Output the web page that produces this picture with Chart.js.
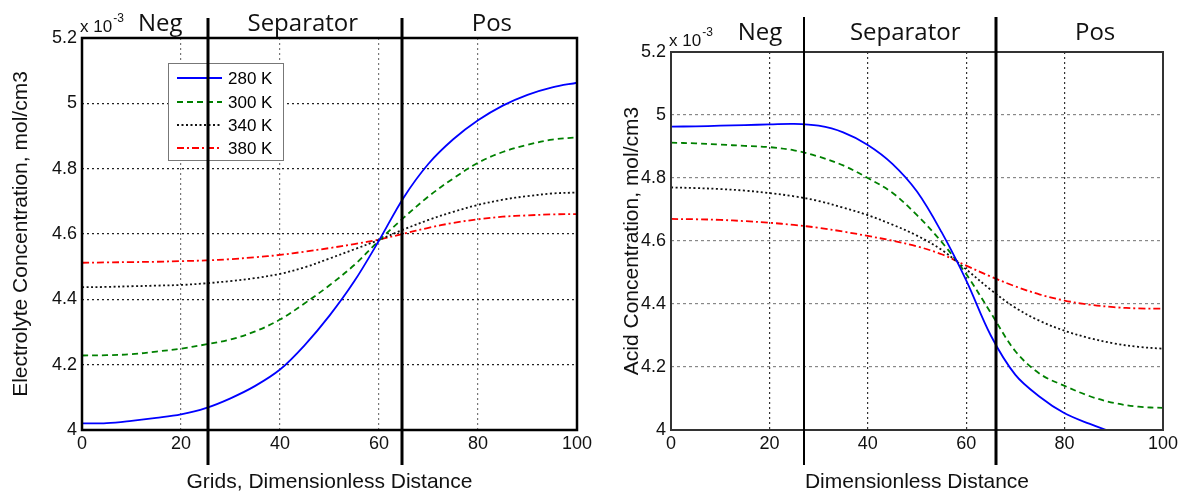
<!DOCTYPE html>
<html lang="en">
<head>
<meta charset="UTF-8">
<title>Electrolyte and Acid Concentration</title>
<script src="https://cdn.jsdelivr.net/npm/chart.js"></script>
<style>
    body {
        margin: 0;
        background: #fff;
        width: 1182px;
        height: 496px;
        overflow: hidden;
        position: relative;
    }
    canvas { position: absolute; top: 0; }
    #electrolyte { left: 0; }
    #acid { left: 600px; }
</style>
</head>
<body>
<canvas id="electrolyte" width="600" height="496"></canvas>
<canvas id="acid" width="582" height="496"></canvas>

<script>
// grid points along the cell (dimensionless distance)
const xGrid = [0, 5, 10, 15, 20, 25, 30, 35, 40, 45, 50, 55, 60, 65, 70, 75, 80, 85, 90, 95, 100];
const temps = ['280 K', '300 K', '340 K', '380 K'];

// electrolyte concentration, x10^-3 mol/cm3
const elec280 = [4.020, 4.021, 4.028, 4.037, 4.048, 4.067, 4.097, 4.135, 4.185, 4.260, 4.350, 4.455, 4.580, 4.712, 4.815, 4.890, 4.948, 4.993, 5.026, 5.049, 5.063];
const elec300 = [4.228, 4.229, 4.232, 4.240, 4.249, 4.262, 4.277, 4.302, 4.338, 4.388, 4.443, 4.505, 4.580, 4.650, 4.715, 4.770, 4.818, 4.851, 4.873, 4.889, 4.896];
const elec340 = [4.437, 4.438, 4.440, 4.442, 4.444, 4.449, 4.456, 4.465, 4.478, 4.498, 4.525, 4.553, 4.582, 4.614, 4.643, 4.668, 4.689, 4.705, 4.716, 4.724, 4.727];
const elec380 = [4.512, 4.513, 4.514, 4.515, 4.517, 4.519, 4.523, 4.529, 4.536, 4.546, 4.557, 4.569, 4.583, 4.601, 4.619, 4.634, 4.645, 4.653, 4.657, 4.660, 4.661];

// acid concentration, x10^-3 mol/cm3
const acid280 = [4.963, 4.964, 4.966, 4.968, 4.970, 4.972, 4.966, 4.945, 4.905, 4.845, 4.757, 4.628, 4.475, 4.300, 4.175, 4.105, 4.053, 4.020, 3.992, 3.972, 3.957];
const acid300 = [4.912, 4.910, 4.906, 4.902, 4.898, 4.888, 4.868, 4.840, 4.800, 4.753, 4.682, 4.597, 4.495, 4.372, 4.250, 4.178, 4.140, 4.108, 4.086, 4.074, 4.070];
const acid340 = [4.770, 4.768, 4.765, 4.760, 4.752, 4.742, 4.727, 4.706, 4.682, 4.652, 4.617, 4.572, 4.510, 4.445, 4.388, 4.346, 4.315, 4.292, 4.275, 4.264, 4.258];
const acid380 = [4.670, 4.669, 4.667, 4.663, 4.658, 4.651, 4.642, 4.630, 4.616, 4.601, 4.583, 4.558, 4.522, 4.487, 4.456, 4.430, 4.411, 4.398, 4.390, 4.386, 4.385];

const xTicks = [0, 20, 40, 60, 80, 100];
const yTicks = [4, 4.2, 4.4, 4.6, 4.8, 5, 5.2];

// region boundaries and label positions (in x units)
const regionNames = ['Neg', 'Separator', 'Pos'];
const elecBounds = [25.4, 64.7];
const elecLabelX = [15.8, 44.6, 82.8];
const acidBounds = [27, 66.1];
const acidLabelX = [18.1, 47.6, 86.2];

const ARIAL = "'Liberation Sans', Arial, sans-serif";

const seriesStyle = [
    { color: '#0000ff', dash: [] },
    { color: '#008000', dash: [6, 4] },
    { color: '#111111', dash: [2, 2.5] },
    { color: '#ff0000', dash: [7, 3, 2, 3] }
];

// frame, legend, region dividers and labels
const panelDecor = {
    id: 'panelDecor',
    afterDatasetsDraw(chart, args, opts) {
        const { ctx, chartArea: a, scales: { x } } = chart;
        ctx.save();

        ctx.setLineDash([]);
        ctx.strokeStyle = opts.frameColor;
        ctx.lineWidth = opts.frameWidth;
        ctx.strokeRect(a.left, a.top, a.right - a.left, a.bottom - a.top);

        if (opts.legend) {
            const bx = a.left + 86, by = a.top + 25, bw = 115, bh = 97;
            ctx.fillStyle = '#fff';
            ctx.fillRect(bx, by, bw, bh);
            ctx.strokeStyle = '#777';
            ctx.lineWidth = 1;
            ctx.strokeRect(bx + 0.5, by + 0.5, bw, bh);
            const rows = [15, 39, 62, 85];
            chart.data.datasets.forEach((ds, i) => {
                const ry = by + rows[i];
                ctx.strokeStyle = ds.borderColor;
                ctx.lineWidth = ds.borderWidth;
                ctx.setLineDash(ds.borderDash);
                ctx.beginPath();
                ctx.moveTo(bx + 9, ry);
                ctx.lineTo(bx + 54, ry);
                ctx.stroke();
                ctx.setLineDash([]);
                ctx.fillStyle = '#000';
                ctx.font = '17px ' + ARIAL;
                ctx.textBaseline = 'middle';
                ctx.fillText(ds.label, bx + 60, ry + 1);
            });
        }

        ctx.setLineDash([]);
        ctx.strokeStyle = '#000';
        opts.bounds.forEach((b, i) => {
            const px = Math.round(x.getPixelForValue(b));
            ctx.lineWidth = opts.dividerWidth[i];
            ctx.beginPath();
            ctx.moveTo(px, opts.dividerTop);
            ctx.lineTo(px, a.bottom + 35);
            ctx.stroke();
        });

        ctx.fillStyle = '#111';
        ctx.font = "24px 'Open Sans', sans-serif";
        ctx.textAlign = 'center';
        ctx.textBaseline = 'alphabetic';
        regionNames.forEach((name, i) => {
            ctx.fillText(name, x.getPixelForValue(opts.labelX[i]), opts.labelBaseline);
        });

        // axis multiplier
        ctx.textAlign = 'left';
        ctx.font = '17px ' + ARIAL;
        ctx.fillText('x 10', a.left - 2, a.top - 6);
        const w = ctx.measureText('x 10').width;
        ctx.font = '12px ' + ARIAL;
        ctx.fillText('-3', a.left - 1 + w, a.top - 16);

        ctx.restore();
    }
};

function makePanel(id, series, p) {
    return new Chart(document.getElementById(id), {
        type: 'line',
        data: {
            datasets: series.map((vals, i) => ({
                label: temps[i],
                data: xGrid.map((xv, j) => ({ x: xv, y: vals[j] })),
                borderColor: seriesStyle[i].color,
                borderDash: seriesStyle[i].dash,
                borderWidth: 1.8,
                pointRadius: 0,
                tension: 0.35,
                fill: false
            }))
        },
        options: {
            responsive: false,
            animation: false,
            layout: { padding: { top: p.top, right: p.right, left: 0, bottom: 0 } },
            plugins: {
                legend: { display: false },
                tooltip: { enabled: false },
                panelDecor: {
                    frameColor: p.frameColor,
                    frameWidth: p.frameWidth,
                    legend: p.legend,
                    bounds: p.bounds,
                    labelX: p.labelX,
                    labelBaseline: p.labelBaseline,
                    dividerTop: p.dividerTop,
                    dividerWidth: p.dividerWidth
                }
            },
            scales: {
                x: {
                    type: 'linear',
                    min: 0,
                    max: 100,
                    afterBuildTicks: s => { s.ticks = xTicks.map(v => ({ value: v })); },
                    afterFit: s => { s.height = 66; },
                    ticks: { color: '#111', font: { size: 18, family: ARIAL }, padding: 3, maxRotation: 0 },
                    grid: { color: p.vGrid, lineWidth: 1.2, drawTicks: false },
                    border: { display: false, dash: [2, 3] },
                    title: {
                        display: true,
                        text: p.xTitle,
                        color: '#111',
                        font: { size: 21, family: ARIAL },
                        padding: { top: 0, bottom: 1 }
                    }
                },
                y: {
                    min: 4,
                    max: 5.2,
                    afterBuildTicks: s => { s.ticks = yTicks.map(v => ({ value: v })); },
                    afterFit: s => { s.width = p.yWidth; },
                    ticks: {
                        color: '#111',
                        font: { size: 18, family: ARIAL },
                        padding: 5,
                        callback: v => String(Math.round(v * 10) / 10)
                    },
                    grid: { color: p.hGrid, lineWidth: 1.2, drawTicks: false },
                    border: { display: false, dash: p.hDash },
                    title: {
                        display: true,
                        text: p.yTitle,
                        color: '#111',
                        font: { size: 21, family: ARIAL },
                        padding: { top: p.yTitlePad, bottom: 0 }
                    }
                }
            }
        },
        plugins: [panelDecor]
    });
}

makePanel('electrolyte', [elec280, elec300, elec340, elec380], {
    top: 38, right: 23, yWidth: 82, yTitlePad: 9,
    xTitle: 'Grids, Dimensionless Distance',
    yTitle: 'Electrolyte Concentration, mol/cm3',
    frameColor: '#000', frameWidth: 2.5, hGrid: '#222', vGrid: '#777', hDash: [2, 3],
    legend: true, bounds: elecBounds, labelX: elecLabelX,
    labelBaseline: 31, dividerTop: 18, dividerWidth: [3, 3]
});

makePanel('acid', [acid280, acid300, acid340, acid380], {
    top: 52, right: 19, yWidth: 71, yTitlePad: 20,
    xTitle: 'Dimensionless Distance',
    yTitle: 'Acid Concentration, mol/cm3',
    frameColor: '#333', frameWidth: 2, hGrid: '#888', vGrid: '#333', hDash: [3, 3],
    legend: false, bounds: acidBounds, labelX: acidLabelX,
    labelBaseline: 40, dividerTop: 17, dividerWidth: [2, 3]
});
</script>
</body>
</html>
